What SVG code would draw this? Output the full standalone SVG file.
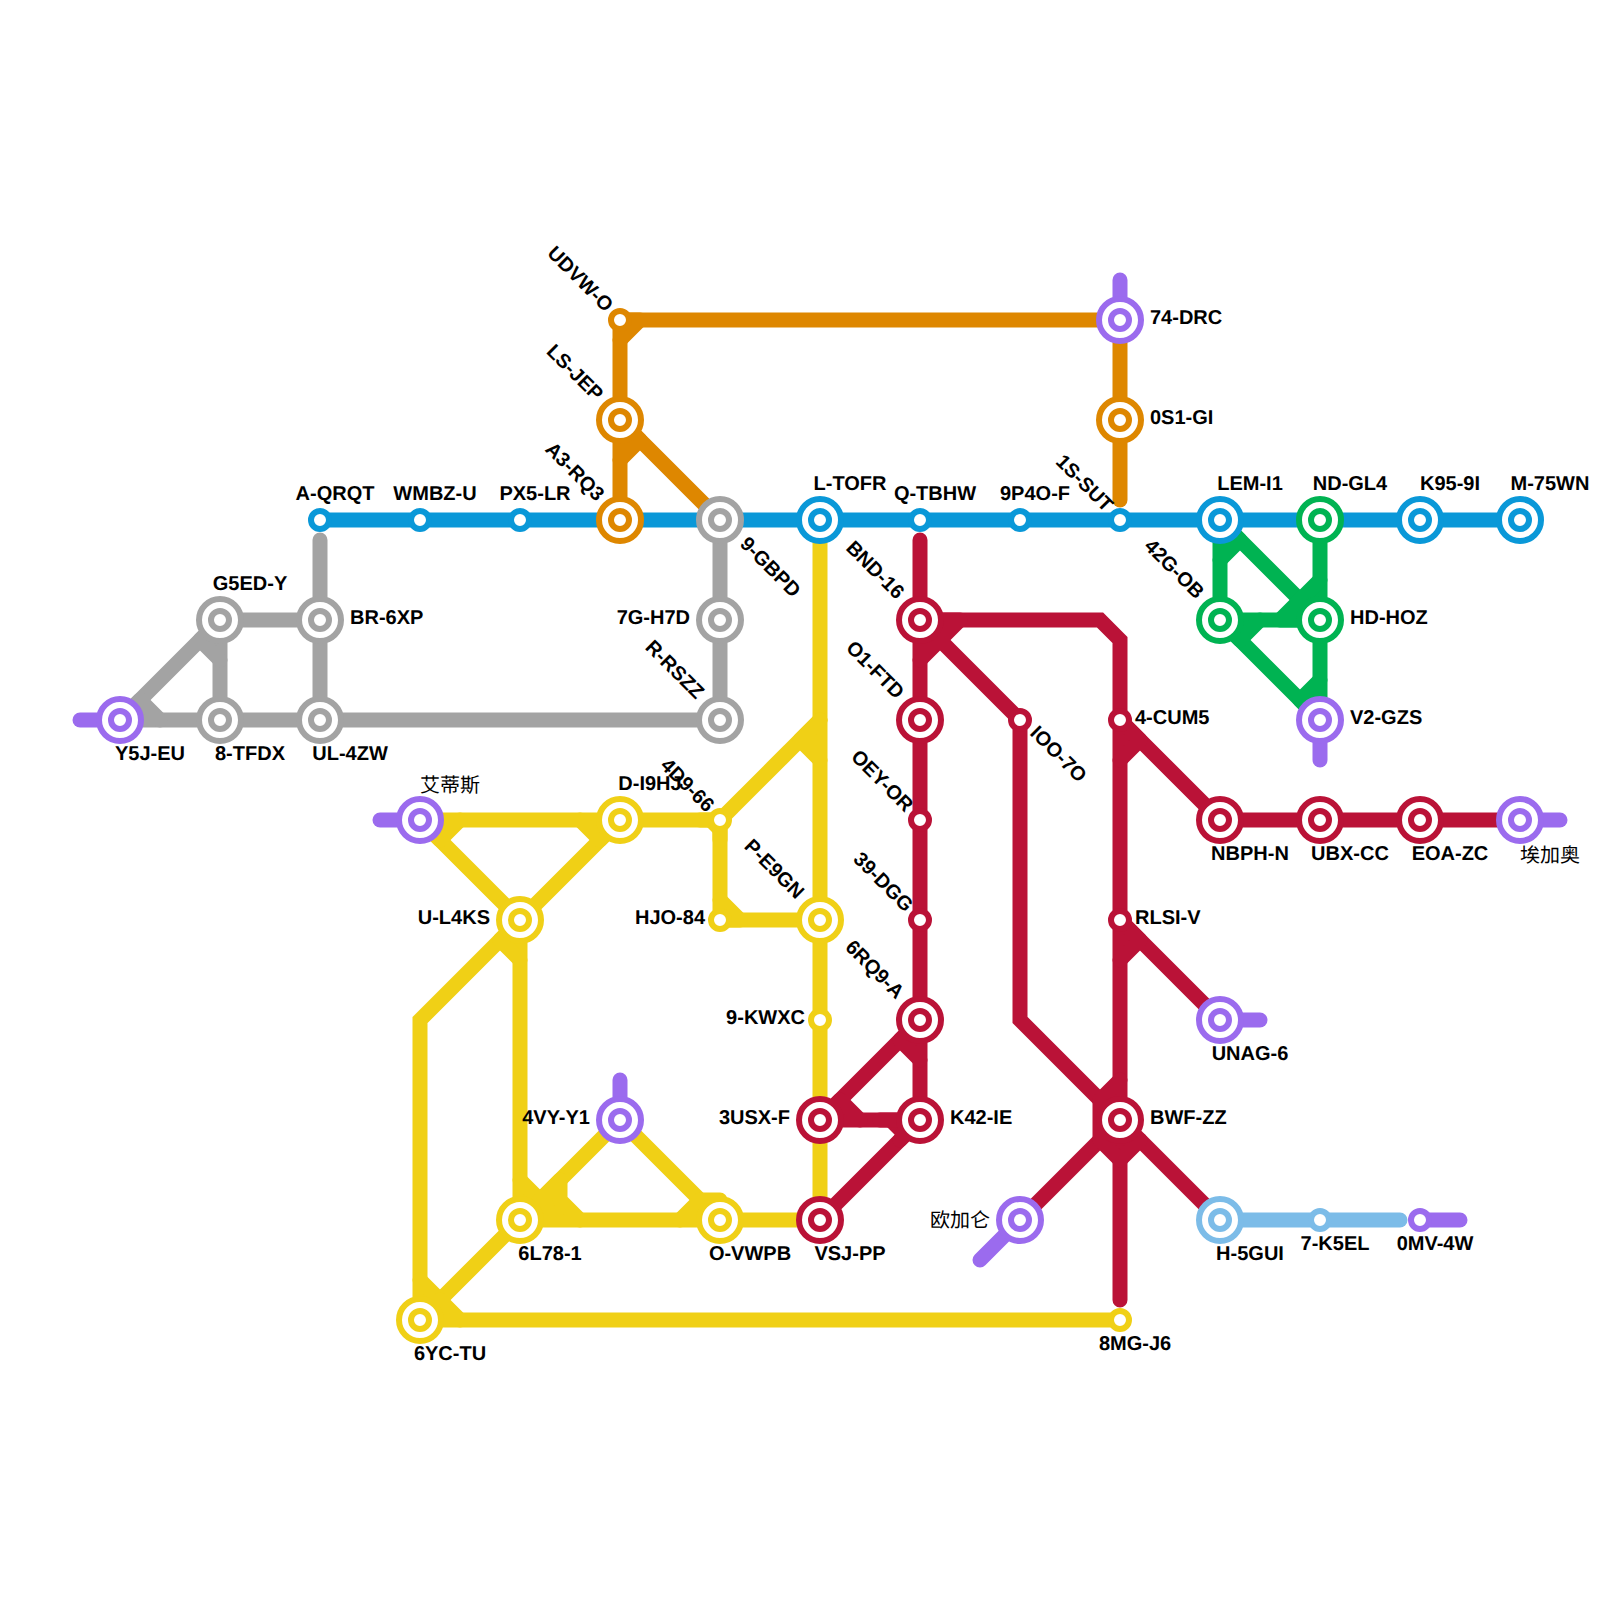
<svg xmlns="http://www.w3.org/2000/svg" width="1600" height="1600" viewBox="0 0 1600 1600">
<style>
text{font-family:"Liberation Sans","Noto Sans CJK SC",sans-serif;font-size:20px;font-weight:700;fill:#000;text-rendering:geometricPrecision}
.cjk{font-family:"Noto Sans CJK SC",sans-serif;font-weight:400}
.m{text-anchor:middle}.e{text-anchor:end}
#connectors polyline{fill:none;stroke-width:15;stroke-linecap:round;stroke-linejoin:round}
#connectors polyline.j{fill:inherit}
#connectors polyline.c{stroke-linejoin:miter}
.blue{stroke:#0a98d8;fill:#0a98d8}.gray{stroke:#a3a3a3;fill:#a3a3a3}.orange{stroke:#de8700;fill:#de8700}.yellow{stroke:#f0d016;fill:#f0d016}.red{stroke:#ba1237;fill:#ba1237}.green{stroke:#00b352;fill:#00b352}.purple{stroke:#9b6bee;fill:#9b6bee}.sky{stroke:#7cbce8;fill:#7cbce8}
circle{fill:#fff;stroke-width:6}
</style>
<rect width="1600" height="1600" fill="#fff"/>
<g id="connectors">
<g class="purple">
<polyline points="1120,320 1120,280"/><polyline points="120,720 80,720"/><polyline points="420,820 380,820"/><polyline points="620,1120 620,1080"/><polyline points="1320,720 1320,760"/><polyline points="1520,820 1560,820"/><polyline points="1220,1020 1260,1020"/><polyline points="1020,1220 980,1260"/><polyline points="1420,1220 1460,1220"/>
</g>
<g class="blue"><polyline points="320,520 1520,520"/></g>
<g class="gray">
<polyline points="320,540 320,720"/><polyline points="220,620 320,620"/><polyline points="220,620 120,720"/><polyline points="120,720 720,720"/><polyline points="220,620 220,720"/><polyline points="720,520 720,720"/>
<polyline class="j" points="120,720 140,700 160,720"/><polyline class="j" points="220,620 200,640 220,660"/>
</g>
<g class="orange">
<polyline points="620,320 620,520"/><polyline points="620,320 1120,320"/><polyline points="1120,320 1120,500"/><polyline points="620,420 720,520"/>
<polyline class="j" points="620,320 640,320 620,340"/><polyline class="j" points="620,420 640,440 620,460"/>
</g>
<g class="yellow">
<polyline points="820,540 820,1220"/><polyline points="720,820 820,720"/>
<polyline points="420,820 520,920"/><polyline points="620,820 520,920"/>
<polyline points="420,820 720,820"/>
<polyline points="720,820 720,920 820,920"/>
<polyline class="c" points="520,920 420,1020 420,1320 1120,1320"/><polyline points="520,920 520,1220"/>
<polyline points="520,1220 420,1320"/>
<polyline points="620,1120 520,1220"/><polyline points="620,1120 720,1220"/><polyline points="520,1220 820,1220"/>
<polyline class="j" points="820,720 800,740 820,760"/>
<polyline class="j" points="420,820 440,840 460,820"/><polyline class="j" points="580,820 600,840 620,820"/>
<polyline class="j" points="700,820 720,820 720,840"/><polyline class="j" points="720,900 740,920 720,920"/>
<polyline class="j" points="520,920 500,940 520,960"/><polyline class="j" points="520,1180 540,1200 520,1220"/>
<polyline class="j" points="520,1220 560,1180 560,1200 580,1220"/><polyline class="j" points="680,1220 700,1200 720,1200 720,1220"/>
<polyline class="j" points="420,1280 440,1300 420,1320"/><polyline class="j" points="420,1320 440,1300 460,1320"/>
</g>
<g class="red">
<polyline points="920,540 920,1120"/><polyline class="c" points="920,620 1100,620 1120,640 1120,1300"/>
<polyline class="c" points="920,620 1020,720 1020,1020 1120,1120"/>
<polyline points="1120,720 1220,820 1520,820"/>
<polyline points="1120,920 1220,1020"/><polyline points="1120,1120 1020,1220"/><polyline points="1120,1120 1220,1220"/>
<polyline points="920,1020 820,1120"/>
<polyline points="820,1120 920,1120"/><polyline points="920,1120 820,1220"/>
<polyline class="j" points="920,620 960,620 920,660"/>
<polyline class="j" points="1120,720 1140,740 1120,760"/><polyline class="j" points="1120,920 1140,940 1120,960"/>
<polyline class="j" points="1120,1080 1100,1100 1100,1140 1120,1160 1140,1140"/>
<polyline class="j" points="920,1020 900,1040 920,1060"/><polyline class="j" points="820,1120 840,1100 860,1120"/><polyline class="j" points="880,1120 920,1120 900,1140"/>
</g>
<g class="green">
<polyline points="1220,520 1220,620"/><polyline points="1220,520 1320,620"/>
<polyline points="1320,520 1320,720"/><polyline points="1220,620 1320,620"/><polyline points="1220,620 1320,720"/>
<polyline class="j" points="1220,520 1240,540 1220,560"/><polyline class="j" points="1320,580 1280,620 1320,620"/>
<polyline class="j" points="1260,620 1240,640 1220,620"/><polyline class="j" points="1320,680 1300,700 1320,720"/>
</g>
<g class="sky"><polyline points="1220,1220 1400,1220"/></g>
</g>
<g id="stations">
<g id="n-a-qrqt"><circle cx="320" cy="520" r="9" stroke="#0a98d8"/><text class="m" x="335" y="500">A-QRQT</text></g>
<g id="n-wmbz-u"><circle cx="420" cy="520" r="9" stroke="#0a98d8"/><text class="m" x="435" y="500">WMBZ-U</text></g>
<g id="n-px5-lr"><circle cx="520" cy="520" r="9" stroke="#0a98d8"/><text class="m" x="535" y="500">PX5-LR</text></g>
<g id="n-a3-rq3"><circle cx="620" cy="520" r="21" stroke="#de8700"/><circle cx="620" cy="520" r="9" stroke="#de8700"/><text class="e" transform="translate(596,502) rotate(45)">A3-RQ3</text></g>
<g id="n-9-gbpd"><circle cx="720" cy="520" r="21" stroke="#a3a3a3"/><circle cx="720" cy="520" r="9" stroke="#a3a3a3"/><text transform="translate(739,545) rotate(45)">9-GBPD</text></g>
<g id="n-l-tofr"><circle cx="820" cy="520" r="21" stroke="#0a98d8"/><circle cx="820" cy="520" r="9" stroke="#0a98d8"/><text class="m" x="850" y="490">L-TOFR</text></g>
<g id="n-q-tbhw"><circle cx="920" cy="520" r="9" stroke="#0a98d8"/><text class="m" x="935" y="500">Q-TBHW</text></g>
<g id="n-9p4o-f"><circle cx="1020" cy="520" r="9" stroke="#0a98d8"/><text class="m" x="1035" y="500">9P4O-F</text></g>
<g id="n-1s-sut"><circle cx="1120" cy="520" r="9" stroke="#0a98d8"/><text class="e" transform="translate(1105,513) rotate(45)">1S-SUT</text></g>
<g id="n-lem-i1"><circle cx="1220" cy="520" r="21" stroke="#0a98d8"/><circle cx="1220" cy="520" r="9" stroke="#0a98d8"/><text class="m" x="1250" y="490">LEM-I1</text></g>
<g id="n-nd-gl4"><circle cx="1320" cy="520" r="21" stroke="#00b352"/><circle cx="1320" cy="520" r="9" stroke="#00b352"/><text class="m" x="1350" y="490">ND-GL4</text></g>
<g id="n-k95-9i"><circle cx="1420" cy="520" r="21" stroke="#0a98d8"/><circle cx="1420" cy="520" r="9" stroke="#0a98d8"/><text class="m" x="1450" y="490">K95-9I</text></g>
<g id="n-m-75wn"><circle cx="1520" cy="520" r="21" stroke="#0a98d8"/><circle cx="1520" cy="520" r="9" stroke="#0a98d8"/><text class="m" x="1550" y="490">M-75WN</text></g>
<g id="n-udvw-o"><circle cx="620" cy="320" r="9" stroke="#de8700"/><text class="e" transform="translate(605,313) rotate(45)">UDVW-O</text></g>
<g id="n-ls-jep"><circle cx="620" cy="420" r="21" stroke="#de8700"/><circle cx="620" cy="420" r="9" stroke="#de8700"/><text class="e" transform="translate(595,402) rotate(45)">LS-JEP</text></g>
<g id="n-74-drc"><circle cx="1120" cy="320" r="21" stroke="#9b6bee"/><circle cx="1120" cy="320" r="9" stroke="#9b6bee"/><text x="1150" y="324">74-DRC</text></g>
<g id="n-0s1-gi"><circle cx="1120" cy="420" r="21" stroke="#de8700"/><circle cx="1120" cy="420" r="9" stroke="#de8700"/><text x="1150" y="424">0S1-GI</text></g>
<g id="n-g5ed-y"><circle cx="220" cy="620" r="21" stroke="#a3a3a3"/><circle cx="220" cy="620" r="9" stroke="#a3a3a3"/><text class="m" x="250" y="590">G5ED-Y</text></g>
<g id="n-br-6xp"><circle cx="320" cy="620" r="21" stroke="#a3a3a3"/><circle cx="320" cy="620" r="9" stroke="#a3a3a3"/><text x="350" y="624">BR-6XP</text></g>
<g id="n-y5j-eu"><circle cx="120" cy="720" r="21" stroke="#9b6bee"/><circle cx="120" cy="720" r="9" stroke="#9b6bee"/><text class="m" x="150" y="760">Y5J-EU</text></g>
<g id="n-8-tfdx"><circle cx="220" cy="720" r="21" stroke="#a3a3a3"/><circle cx="220" cy="720" r="9" stroke="#a3a3a3"/><text class="m" x="250" y="760">8-TFDX</text></g>
<g id="n-ul-4zw"><circle cx="320" cy="720" r="21" stroke="#a3a3a3"/><circle cx="320" cy="720" r="9" stroke="#a3a3a3"/><text class="m" x="350" y="760">UL-4ZW</text></g>
<g id="n-7g-h7d"><circle cx="720" cy="620" r="21" stroke="#a3a3a3"/><circle cx="720" cy="620" r="9" stroke="#a3a3a3"/><text class="e" x="690" y="624">7G-H7D</text></g>
<g id="n-r-rszz"><circle cx="720" cy="720" r="21" stroke="#a3a3a3"/><circle cx="720" cy="720" r="9" stroke="#a3a3a3"/><text class="e" transform="translate(696,700) rotate(45)">R-RSZZ</text></g>
<g id="n-42g-ob"><circle cx="1220" cy="620" r="21" stroke="#00b352"/><circle cx="1220" cy="620" r="9" stroke="#00b352"/><text class="e" transform="translate(1196,600) rotate(45)">42G-OB</text></g>
<g id="n-hd-hoz"><circle cx="1320" cy="620" r="21" stroke="#00b352"/><circle cx="1320" cy="620" r="9" stroke="#00b352"/><text x="1350" y="624">HD-HOZ</text></g>
<g id="n-v2-gzs"><circle cx="1320" cy="720" r="21" stroke="#9b6bee"/><circle cx="1320" cy="720" r="9" stroke="#9b6bee"/><text x="1350" y="724">V2-GZS</text></g>
<g id="n-bnd-16"><circle cx="920" cy="620" r="21" stroke="#ba1237"/><circle cx="920" cy="620" r="9" stroke="#ba1237"/><text class="e" transform="translate(896,600) rotate(45)">BND-16</text></g>
<g id="n-o1-ftd"><circle cx="920" cy="720" r="21" stroke="#ba1237"/><circle cx="920" cy="720" r="9" stroke="#ba1237"/><text class="e" transform="translate(896,700) rotate(45)">O1-FTD</text></g>
<g id="n-ioo-7o"><circle cx="1020" cy="720" r="9" stroke="#ba1237"/><text transform="translate(1029,734) rotate(45)">IOO-7O</text></g>
<g id="n-4-cum5"><circle cx="1120" cy="720" r="9" stroke="#ba1237"/><text x="1135" y="724">4-CUM5</text></g>
<g id="n-oey-or"><circle cx="920" cy="820" r="9" stroke="#ba1237"/><text class="e" transform="translate(905,813) rotate(45)">OEY-OR</text></g>
<g id="n-39-dgg"><circle cx="920" cy="920" r="9" stroke="#ba1237"/><text class="e" transform="translate(905,913) rotate(45)">39-DGG</text></g>
<g id="n-rlsi-v"><circle cx="1120" cy="920" r="9" stroke="#ba1237"/><text x="1135" y="924">RLSI-V</text></g>
<g id="n-nbph-n"><circle cx="1220" cy="820" r="21" stroke="#ba1237"/><circle cx="1220" cy="820" r="9" stroke="#ba1237"/><text class="m" x="1250" y="860">NBPH-N</text></g>
<g id="n-ubx-cc"><circle cx="1320" cy="820" r="21" stroke="#ba1237"/><circle cx="1320" cy="820" r="9" stroke="#ba1237"/><text class="m" x="1350" y="860">UBX-CC</text></g>
<g id="n-eoa-zc"><circle cx="1420" cy="820" r="21" stroke="#ba1237"/><circle cx="1420" cy="820" r="9" stroke="#ba1237"/><text class="m" x="1450" y="860">EOA-ZC</text></g>
<g id="n-aijiaao"><circle cx="1520" cy="820" r="21" stroke="#9b6bee"/><circle cx="1520" cy="820" r="9" stroke="#9b6bee"/><text class="m cjk" x="1550" y="862">埃加奥</text></g>
<g id="n-aidisi"><circle cx="420" cy="820" r="21" stroke="#9b6bee"/><circle cx="420" cy="820" r="9" stroke="#9b6bee"/><text class="m cjk" x="450" y="792">艾蒂斯</text></g>
<g id="n-d-i9hj"><circle cx="620" cy="820" r="21" stroke="#f0d016"/><circle cx="620" cy="820" r="9" stroke="#f0d016"/><text class="m" x="650" y="790">D-I9HJ</text></g>
<g id="n-4d9-66"><circle cx="720" cy="820" r="9" stroke="#f0d016"/><text class="e" transform="translate(706,813) rotate(45)">4D9-66</text></g>
<g id="n-u-l4ks"><circle cx="520" cy="920" r="21" stroke="#f0d016"/><circle cx="520" cy="920" r="9" stroke="#f0d016"/><text class="e" x="490" y="924">U-L4KS</text></g>
<g id="n-hjo-84"><circle cx="720" cy="920" r="9" stroke="#f0d016"/><text class="e" x="705" y="924">HJO-84</text></g>
<g id="n-p-e9gn"><circle cx="820" cy="920" r="21" stroke="#f0d016"/><circle cx="820" cy="920" r="9" stroke="#f0d016"/><text class="e" transform="translate(796,900) rotate(45)">P-E9GN</text></g>
<g id="n-9-kwxc"><circle cx="820" cy="1020" r="9" stroke="#f0d016"/><text class="e" x="805" y="1024">9-KWXC</text></g>
<g id="n-6rq9-a"><circle cx="920" cy="1020" r="21" stroke="#ba1237"/><circle cx="920" cy="1020" r="9" stroke="#ba1237"/><text class="e" transform="translate(896,1000) rotate(45)">6RQ9-A</text></g>
<g id="n-unag-6"><circle cx="1220" cy="1020" r="21" stroke="#9b6bee"/><circle cx="1220" cy="1020" r="9" stroke="#9b6bee"/><text class="m" x="1250" y="1060">UNAG-6</text></g>
<g id="n-4vy-y1"><circle cx="620" cy="1120" r="21" stroke="#9b6bee"/><circle cx="620" cy="1120" r="9" stroke="#9b6bee"/><text class="e" x="590" y="1124">4VY-Y1</text></g>
<g id="n-3usx-f"><circle cx="820" cy="1120" r="21" stroke="#ba1237"/><circle cx="820" cy="1120" r="9" stroke="#ba1237"/><text class="e" x="790" y="1124">3USX-F</text></g>
<g id="n-k42-ie"><circle cx="920" cy="1120" r="21" stroke="#ba1237"/><circle cx="920" cy="1120" r="9" stroke="#ba1237"/><text x="950" y="1124">K42-IE</text></g>
<g id="n-bwf-zz"><circle cx="1120" cy="1120" r="21" stroke="#ba1237"/><circle cx="1120" cy="1120" r="9" stroke="#ba1237"/><text x="1150" y="1124">BWF-ZZ</text></g>
<g id="n-6l78-1"><circle cx="520" cy="1220" r="21" stroke="#f0d016"/><circle cx="520" cy="1220" r="9" stroke="#f0d016"/><text class="m" x="550" y="1260">6L78-1</text></g>
<g id="n-o-vwpb"><circle cx="720" cy="1220" r="21" stroke="#f0d016"/><circle cx="720" cy="1220" r="9" stroke="#f0d016"/><text class="m" x="750" y="1260">O-VWPB</text></g>
<g id="n-vsj-pp"><circle cx="820" cy="1220" r="21" stroke="#ba1237"/><circle cx="820" cy="1220" r="9" stroke="#ba1237"/><text class="m" x="850" y="1260">VSJ-PP</text></g>
<g id="n-oujialun"><circle cx="1020" cy="1220" r="21" stroke="#9b6bee"/><circle cx="1020" cy="1220" r="9" stroke="#9b6bee"/><text class="e cjk" x="990" y="1227">欧加仑</text></g>
<g id="n-h-5gui"><circle cx="1220" cy="1220" r="21" stroke="#7cbce8"/><circle cx="1220" cy="1220" r="9" stroke="#7cbce8"/><text class="m" x="1250" y="1260">H-5GUI</text></g>
<g id="n-7-k5el"><circle cx="1320" cy="1220" r="9" stroke="#7cbce8"/><text class="m" x="1335" y="1250">7-K5EL</text></g>
<g id="n-0mv-4w"><circle cx="1420" cy="1220" r="9" stroke="#9b6bee"/><text class="m" x="1435" y="1250">0MV-4W</text></g>
<g id="n-6yc-tu"><circle cx="420" cy="1320" r="21" stroke="#f0d016"/><circle cx="420" cy="1320" r="9" stroke="#f0d016"/><text class="m" x="450" y="1360">6YC-TU</text></g>
<g id="n-8mg-j6"><circle cx="1120" cy="1320" r="9" stroke="#f0d016"/><text class="m" x="1135" y="1350">8MG-J6</text></g>
</g>
</svg>
